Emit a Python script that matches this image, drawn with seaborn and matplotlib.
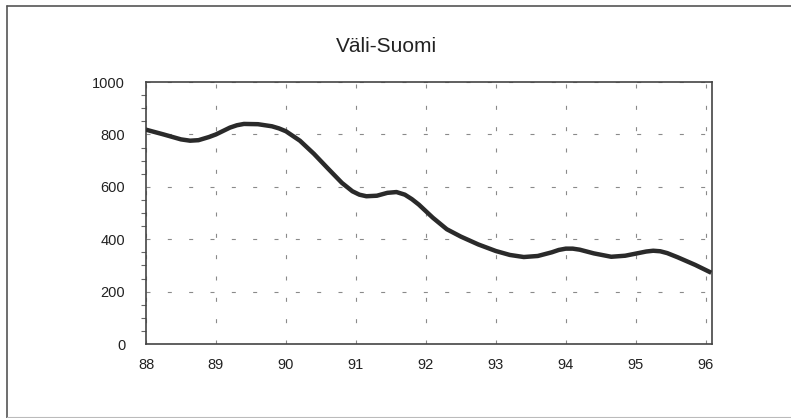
"""
Väli-Suomi line chart, 1988-1996
"""

import numpy as np
import pandas as pd
import matplotlib
matplotlib.use("Agg")
import matplotlib.pyplot as plt
from matplotlib.lines import Line2D
from matplotlib.ticker import MultipleLocator
import seaborn as sns

# values (year as 88..96, value)
years = [88.0, 88.25, 88.5, 88.63, 88.75, 88.9, 89.0, 89.1, 89.2, 89.3,
         89.4, 89.6, 89.8, 89.9, 90.0, 90.2, 90.4, 90.6, 90.8, 90.95,
         91.05, 91.15, 91.3, 91.45, 91.58, 91.7, 91.8, 91.9, 92.1, 92.3,
         92.5, 92.75, 93.0, 93.2, 93.4, 93.6, 93.8, 93.9, 94.0, 94.1,
         94.2, 94.4, 94.65, 94.85, 95.0, 95.15, 95.25, 95.35, 95.45, 95.6,
         95.85, 96.08]
values = [818, 800, 781, 776, 778, 790, 800, 813, 826, 835,
          840, 839, 831, 823, 812, 776, 726, 670, 615, 583,
          570, 564, 566, 577, 580, 570, 553, 532, 482, 438,
          410, 380, 355, 340, 332, 336, 350, 359, 364, 364,
          360, 346, 333, 337, 345, 353, 356, 354, 347, 331,
          302, 272]
x_ticks = [88, 89, 90, 91, 92, 93, 94, 95, 96]
y_ticks = [0, 200, 400, 600, 800, 1000]
title = "Väli-Suomi"

df = pd.DataFrame({"year": years, "value": values})

sns.set_theme(style="white")
plt.rcParams['font.family'] = ['Liberation Sans', 'DejaVu Sans']

fig = plt.figure(figsize=(7.91, 4.18), dpi=100)
ax = fig.add_axes([0.1846, 0.177, 0.7155, 0.6268])

# grid first so the line sits on top
for xv in x_ticks:
    ax.axvline(xv, color='#8a8a8a', lw=0.8, ls=(0, (3.6, 15.6)), zorder=0)
for yv in y_ticks:
    ax.axhline(yv, color='#8a8a8a', lw=0.8, ls=(0, (3.6, 15.6)), zorder=0)

sns.lineplot(data=df, x="year", y="value", ax=ax, color='#2a2a2a',
             linewidth=3.2, estimator=None, sort=False, zorder=3)
ax.lines[-1].set_solid_joinstyle('round')
ax.lines[-1].set_solid_capstyle('butt')

ax.set_xlim(88, 96.09)
ax.set_ylim(0, 1000)
ax.set_xticks(x_ticks)
ax.set_xticklabels([str(t) for t in x_ticks])
ax.set_yticks(y_ticks)
ax.set_yticklabels([str(t) for t in y_ticks])
ax.yaxis.set_minor_locator(MultipleLocator(50))
ax.set_xlabel('')
ax.set_ylabel('')

ax.tick_params(axis='x', direction='inout', length=8, width=1, color='#444444',
               pad=6, labelsize=10.5, labelcolor='#222222')
ax.tick_params(axis='y', which='major', direction='out', length=6, width=1,
               color='#444444', pad=9, labelsize=10.5, labelcolor='#222222')
ax.tick_params(axis='y', which='minor', direction='out', length=3.5, width=0.8,
               color='#666666', left=True)

for sp in ax.spines.values():
    sp.set_visible(True)
    sp.set_color('#444444')
    sp.set_linewidth(1.2)

fig.text(0.488, 0.888, title, ha='center', va='center', fontsize=15,
         color='#222222')

# outer frame (left, top, faint bottom)
fig.add_artist(Line2D([7 / 791, 7 / 791], [1 - 5.5 / 418, 0], color='#555555', lw=1.2))
fig.add_artist(Line2D([7 / 791, 1], [1 - 5.5 / 418, 1 - 5.5 / 418], color='#555555', lw=1.2))
fig.add_artist(Line2D([7 / 791, 1], [1 - 416.5 / 418, 1 - 416.5 / 418], color='#bbbbbb', lw=0.8))

fig.savefig('out.png', dpi=100)
